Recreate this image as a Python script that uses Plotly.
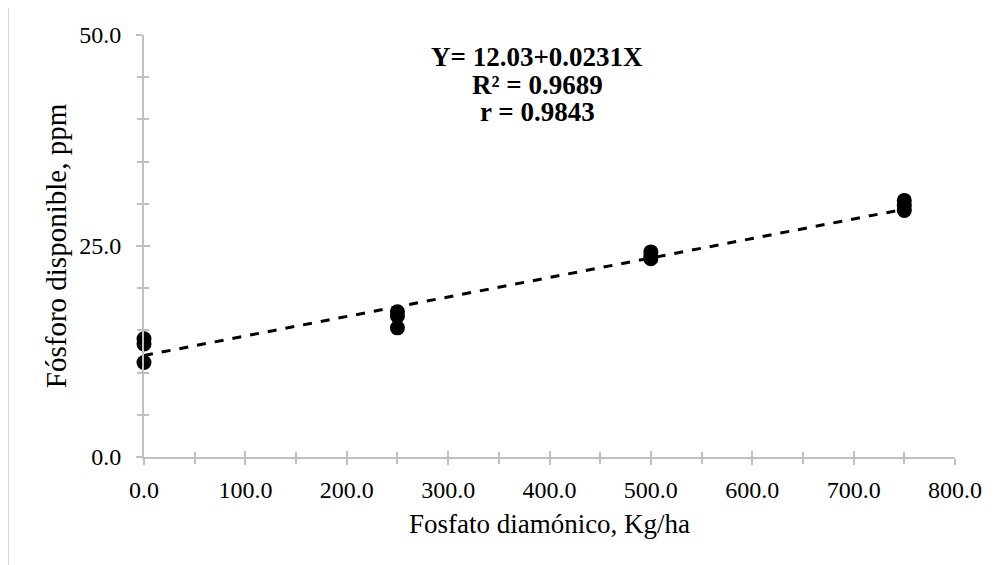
import plotly.graph_objects as go

# Data
dose = [0, 0, 0, 250, 250, 250, 500, 500, 500, 750, 750, 750]
fosforo = [14.0, 13.4, 11.2, 17.2, 16.7, 15.3, 24.3, 23.8, 23.5, 30.4, 29.8, 29.2]
intercept = 12.03
slope = 0.0231
trend_x = [0, 750]
trend_y = [intercept + slope * v for v in trend_x]
x_ticks = [0, 100, 200, 300, 400, 500, 600, 700, 800]
y_ticks = [0, 25, 50]
eq_lines = ["Y= 12.03+0.0231X", "R² = 0.9689", "r = 0.9843"]

OFF = 8  # page body margin
W, H = 1001 - OFF, 565 - OFF
# plot area in window pixels
PX0, PX1, PY0, PY1 = 144, 955, 35, 457
L, R, T, B = PX0 - OFF, W - (PX1 - OFF), PY0 - OFF, H - (PY1 - OFF)
pw, ph = PX1 - PX0, PY1 - PY0

font_family = "Liberation Serif, Times New Roman, serif"
axis_col = "#c0c0c0"

fig = go.Figure()
fig.add_trace(go.Scatter(x=trend_x, y=trend_y, mode="lines",
                         line=dict(color="black", width=3, dash="dash"),
                         showlegend=False))

common = dict(showgrid=False, zeroline=False, showline=True, linecolor=axis_col,
              linewidth=2, tickcolor=axis_col, tickwidth=2, ticklen=6,
              tickfont=dict(family=font_family, size=24, color="black"))

fig.update_layout(
    width=W, height=H,
    margin=dict(l=L, r=R, t=T, b=B),
    paper_bgcolor="white", plot_bgcolor="white",
    xaxis=dict(range=[0, 800], tickvals=x_ticks,
               ticktext=[f"{v:.1f}" for v in x_ticks], ticks="outside",
               ticklabelstandoff=4,
               minor=dict(dtick=50, ticks="outside", ticklen=5, tickcolor=axis_col, tickwidth=2),
               title=dict(text="Fosfato diamónico, Kg/ha",
                          font=dict(family=font_family, size=27, color="black"),
                          standoff=12),
               **common),
    yaxis=dict(range=[0, 50], tickvals=y_ticks,
               ticktext=[f"{v:.1f}" for v in y_ticks], ticks="outside",
               ticklabelstandoff=10,
               minor=dict(dtick=5, ticks="outside", ticklen=5, tickcolor=axis_col, tickwidth=2),
               title=dict(text="Fósforo disponible, ppm",
                          font=dict(family=font_family, size=29, color="black"),
                          standoff=4),
               **common),
    xaxis2=dict(range=[0, 800], overlaying="x", anchor="y", side="bottom",
                showline=False, showgrid=False, zeroline=False, showticklabels=False,
                tickvals=x_ticks, ticks="inside", ticklen=6, tickcolor=axis_col, tickwidth=2,
                minor=dict(dtick=50, ticks="inside", ticklen=5, tickcolor=axis_col, tickwidth=2)),
    yaxis2=dict(range=[0, 50], overlaying="y", anchor="x", side="left",
                showline=False, showgrid=False, zeroline=False, showticklabels=False,
                tickvals=y_ticks, ticks="inside", ticklen=6, tickcolor=axis_col, tickwidth=2,
                minor=dict(dtick=5, ticks="inside", ticklen=5, tickcolor=axis_col, tickwidth=2)),
)

# markers drawn on the overlay axes so they sit above the inside ticks
fig.add_trace(go.Scatter(x=dose, y=fosforo, mode="markers", xaxis="x2", yaxis="y2",
                         marker=dict(color="black", size=15), showlegend=False,
                         cliponaxis=False))


def px_x(p):
    return (p - PX0) / pw


def px_y(p):
    return (PY1 - p) / ph


eq_y = [57, 85, 112]
for txt, yy in zip(eq_lines, eq_y):
    fig.add_annotation(xref="paper", yref="paper", x=px_x(537), y=px_y(yy),
                       text=f"<b>{txt}</b>", showarrow=False, align="center",
                       xanchor="center", yanchor="middle",
                       font=dict(family=font_family, size=27, color="black"))

fig.add_shape(type="rect", xref="paper", yref="paper",
              x0=px_x(8.5), y0=px_y(700), x1=px_x(1200), y1=px_y(6.5),
              line=dict(color="#d9d9d9", width=1), layer="below")

fig.write_html("out.html")
